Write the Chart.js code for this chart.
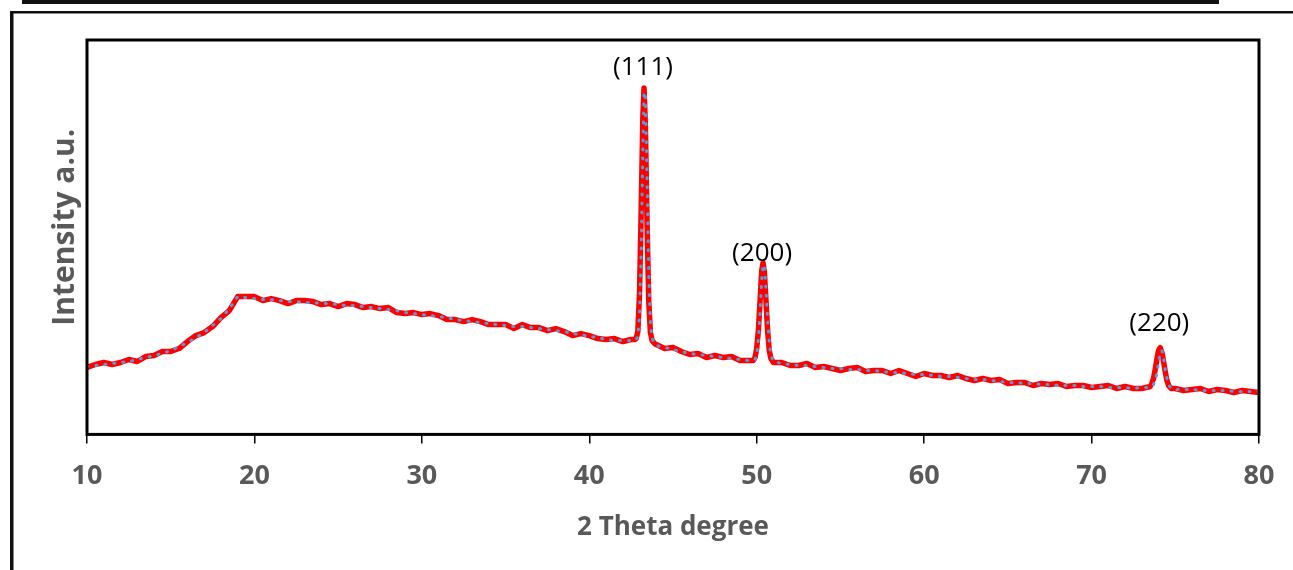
<!DOCTYPE html>
<html>
<head>
<meta charset="utf-8">
<title>XRD pattern</title>
<script src="https://cdn.jsdelivr.net/npm/chart.js@4.4.1/dist/chart.umd.min.js"></script>
<style>
    html, body { margin: 0; padding: 0; background: #fff; }
    #wrap { width: 1293px; height: 570px; }
</style>
</head>
<body>
<div id="wrap"><canvas id="xrdChart" width="1293" height="570"></canvas></div>
<script>
// 2 theta positions (degrees)
const twoTheta = [
    10, 10.5, 11, 11.5, 12, 12.5, 13, 13.5, 14, 14.5, 15, 15.5, 16, 16.5, 17, 17.5, 18, 18.5, 19, 19.5,
    20, 20.5, 21, 21.5, 22, 22.5, 23, 23.5, 24, 24.5, 25, 25.5, 26, 26.5, 27, 27.5, 28, 28.5, 29, 29.5,
    30, 30.5, 31, 31.5, 32, 32.5, 33, 33.5, 34, 34.5, 35, 35.5, 36, 36.5, 37, 37.5, 38, 38.5, 39, 39.5,
    40, 40.5, 41, 41.5, 42, 42.5,
    42.7, 42.8, 42.9, 43.0, 43.1, 43.2, 43.27, 43.35, 43.45, 43.55, 43.65, 43.75, 43.9,
    44, 44.5, 45, 45.5, 46, 46.5, 47, 47.5, 48, 48.5, 49, 49.5,
    49.8, 49.9, 50.0, 50.1, 50.2, 50.3, 50.38, 50.46, 50.55, 50.65, 50.75, 50.85, 51.0,
    51.5, 52, 52.5, 53, 53.5, 54, 54.5, 55, 55.5, 56, 56.5, 57, 57.5, 58, 58.5, 59, 59.5, 60, 60.5, 61,
    61.5, 62, 62.5, 63, 63.5, 64, 64.5, 65, 65.5, 66, 66.5, 67, 67.5, 68, 68.5, 69, 69.5, 70, 70.5, 71,
    71.5, 72, 72.5, 73,
    73.5, 73.6, 73.7, 73.8, 73.9, 74.0, 74.1, 74.2, 74.3, 74.4, 74.5, 74.6, 74.75,
    75, 75.5, 76, 76.5, 77, 77.5, 78, 78.5, 79, 79.5, 80
];

// red trace (raw, noisy)
const sampleA = [
    67, 70, 72, 70, 72, 75, 73, 78, 79, 83, 83, 86, 93, 99, 102, 108, 117, 124, 138, 138,
    138, 134, 136, 134, 131, 134, 134, 133, 130, 131, 128, 131, 130, 127, 128, 126, 127, 122, 121, 122,
    120, 121, 119, 115, 115, 113, 115, 113, 110, 110, 110, 106, 110, 107, 107, 104, 106, 103, 99, 101,
    99, 96, 95, 96, 93, 95,
    95, 96, 103, 141, 225, 318, 347, 310, 212, 134, 102, 94, 91,
    90, 86, 87, 83, 80, 81, 77, 79, 77, 78, 74, 74,
    74, 77, 86, 104, 134, 164, 172, 162, 135, 104, 84, 76, 72,
    72, 69, 69, 71, 67, 68, 66, 64, 66, 67, 63, 64, 64, 61, 64, 61, 58, 61, 59, 59,
    57, 59, 56, 54, 56, 54, 55, 51, 52, 52, 49, 51, 50, 51, 48, 49, 49, 47, 48, 49,
    46, 48, 46, 46,
    48, 51, 56, 65, 75, 84, 87, 82, 73, 63, 54, 49, 46,
    46, 44, 45, 46, 43, 45, 44, 42, 44, 43, 42
];

// blue dotted trace (smoothed)
const sampleB = [
    68, 69, 70, 71, 72, 73, 75, 77, 79, 81, 84, 88, 92, 97, 102, 109, 116, 126, 138, 137,
    136, 135, 135, 134, 133, 133, 132, 132, 131, 131, 130, 129, 129, 128, 127, 126, 125, 124, 122, 121,
    120, 119, 118, 117, 115, 114, 113, 112, 111, 110, 109, 108, 108, 107, 106, 105, 104, 103, 101, 100,
    98, 97, 95, 94, 94, 94,
    94, 95, 98, 120, 185, 284, 343, 338, 256, 162, 112, 96, 91,
    89, 87, 85, 83, 81, 80, 79, 78, 77, 76, 75, 74,
    74, 75, 80, 95, 122, 155, 170, 168, 146, 115, 92, 79, 73,
    71, 70, 69, 69, 68, 67, 66, 66, 65, 65, 64, 64, 63, 62, 62, 61, 60, 60, 59, 58,
    58, 57, 56, 55, 55, 54, 53, 52, 52, 51, 51, 50, 50, 49, 49, 49, 48, 48, 48, 47,
    47, 47, 46, 47,
    47, 48, 50, 54, 61, 72, 82, 84, 76, 65, 56, 50, 46,
    45, 45, 45, 44, 44, 44, 44, 43, 43, 43, 43
];

const xTicks = [10, 20, 30, 40, 50, 60, 70, 80];

const peakNames = ['(111)', '(200)', '(220)'];
const peakTheta = [43.27, 50.38, 74.1];

const AXIS_GREY = '#595959';

function toPoints(values) {
    return twoTheta.map((t, i) => ({ x: t, y: values[i] }));
}

// page rules around the figure, the plot box and the y title
const framePlugin = {
    id: 'frame',
    beforeDraw(chart) {
        const ctx = chart.ctx;
        ctx.save();
        ctx.fillStyle = '#fff';
        ctx.fillRect(0, 0, chart.width, chart.height);
        ctx.fillStyle = '#111';
        ctx.fillRect(22, 0, 1197, 4);
        ctx.fillRect(10, 11, 1283, 2.5);
        ctx.fillRect(10, 11, 3.5, 559);
        ctx.restore();
    },
    afterDraw(chart) {
        const a = chart.chartArea;
        const ctx = chart.ctx;
        ctx.save();
        ctx.strokeStyle = '#000';
        ctx.lineWidth = 3;
        ctx.strokeRect(a.left, a.top, a.right - a.left, a.bottom - a.top);

        // y axis title (the axis itself carries no ticks)
        ctx.translate(a.left - 22, (a.top + a.bottom) / 2 - 10);
        ctx.rotate(-Math.PI / 2);
        ctx.font = 'bold 30px "Open Sans"';
        ctx.fillStyle = AXIS_GREY;
        ctx.textAlign = 'center';
        ctx.textBaseline = 'middle';
        ctx.fillText('Intensity a.u.', 0, 0);
        ctx.restore();
    }
};

// Miller index labels above each reflection
const peakLabelPlugin = {
    id: 'peakLabels',
    afterDatasetsDraw(chart) {
        const xs = chart.scales.x;
        const ys = chart.scales.y;
        const lift = [20, 9, 24];
        const ctx = chart.ctx;
        ctx.save();
        ctx.font = '26px "Open Sans"';
        ctx.fillStyle = '#000';
        ctx.textAlign = 'center';
        ctx.textBaseline = 'middle';
        peakNames.forEach((name, i) => {
            let top = 0;
            twoTheta.forEach((t, j) => {
                if (Math.abs(t - peakTheta[i]) < 0.3) top = Math.max(top, sampleA[j]);
            });
            const px = xs.getPixelForValue(peakTheta[i]) - 1;
            const py = ys.getPixelForValue(top) - lift[i];
            ctx.fillText(name, px, py);
        });
        ctx.restore();
    }
};

function initializeChart() {
    const canvas = document.getElementById('xrdChart');
    new Chart(canvas, {
        type: 'line',
        data: {
            datasets: [{
                // first dataset is painted last, so the blue dots sit on the red band
                label: 'B',
                data: toPoints(sampleB),
                borderColor: '#5B9BD5',
                borderWidth: 3,
                borderDash: [1, 8],
                borderCapStyle: 'round',
                pointRadius: 0,
                tension: 0
            }, {
                label: 'A',
                data: toPoints(sampleA),
                borderColor: '#FF0000',
                borderWidth: 5.5,
                borderJoinStyle: 'round',
                pointRadius: 0,
                tension: 0
            }]
        },
        options: {
            responsive: false,
            animation: false,
            layout: { padding: { left: 87, right: 34, top: 40, bottom: 22 } },
            plugins: {
                legend: { display: false },
                tooltip: { enabled: false }
            },
            scales: {
                x: {
                    type: 'linear',
                    min: 10,
                    max: 80,
                    afterBuildTicks: axis => { axis.ticks = xTicks.map(v => ({ value: v })); },
                    border: { display: false },
                    grid: {
                        drawOnChartArea: false,
                        drawTicks: true,
                        tickLength: 9,
                        color: '#000',
                        lineWidth: 1.5
                    },
                    ticks: {
                        padding: 17,
                        color: AXIS_GREY,
                        font: { family: 'Open Sans', size: 27, weight: 'bold' }
                    },
                    title: {
                        display: true,
                        text: '2 Theta degree',
                        color: AXIS_GREY,
                        padding: { top: 2, bottom: 5 },
                        font: { family: 'Open Sans', size: 26, weight: 'bold' }
                    }
                },
                y: {
                    display: false,
                    min: 0,
                    max: 395
                }
            }
        },
        plugins: [framePlugin, peakLabelPlugin]
    });
}

document.addEventListener('DOMContentLoaded', initializeChart);
</script>
</body>
</html>
